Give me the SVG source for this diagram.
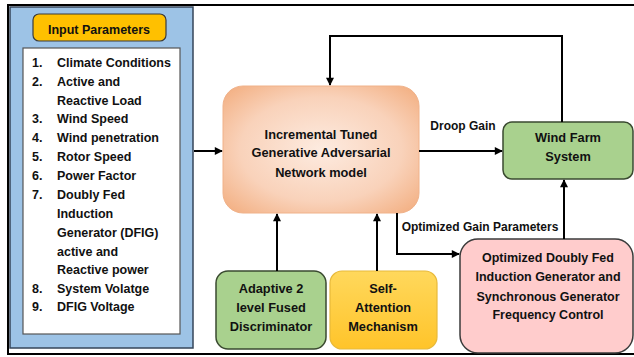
<svg xmlns="http://www.w3.org/2000/svg" width="634" height="357" viewBox="0 0 634 357">
<defs>
<radialGradient id="gOrange" cx="0.5" cy="0.5" r="0.75">
<stop offset="0" stop-color="#FDEBE0"/>
<stop offset="0.55" stop-color="#F9D2BA"/>
<stop offset="1" stop-color="#F1A673"/>
</radialGradient>
<linearGradient id="gYellow" x1="0" y1="0" x2="0" y2="1">
<stop offset="0" stop-color="#FFD85C"/>
<stop offset="1" stop-color="#FFC42A"/>
</linearGradient>
<marker id="arr" viewBox="0 0 10 10" refX="9" refY="5" markerWidth="9" markerHeight="8" markerUnits="userSpaceOnUse" orient="auto">
<path d="M0,0 L10,5 L0,10 z" fill="#000"/>
</marker>
</defs>
<style>
text{font-family:"Liberation Sans",Arial,sans-serif;font-weight:bold;fill:#111}
.l{font-size:12.5px}
.n{font-size:12px;text-anchor:middle}
.big{font-size:12.8px}
.pk{font-size:12.5px}
.c{fill:none;stroke:#000;stroke-width:2}
</style>
<rect x="0" y="0" width="634" height="357" fill="#fff"/>
<rect x="8" y="5" width="640" height="349" fill="none" stroke="#000" stroke-width="2"/>

<g id="input-panel">
<rect x="10" y="7" width="183" height="341" fill="#9DC3E6" stroke="#36465a" stroke-width="1.5"/>
<rect x="33" y="14" width="133" height="27" rx="6" fill="#FFC000" stroke="#3b3b3b" stroke-width="1.2"/>
<text class="n" x="99" y="34" style="font-size:12.5px">Input Parameters</text>
<rect x="23" y="48" width="157" height="286" fill="#fff" stroke="#555" stroke-width="1.2"/>
<text class="l" x="32" y="67">1.</text><text class="l" x="57" y="67">Climate Conditions</text>
<text class="l" x="32" y="86">2.</text><text class="l" x="57" y="86">Active and</text>
<text class="l" x="57" y="105">Reactive Load</text>
<text class="l" x="32" y="123">3.</text><text class="l" x="57" y="123">Wind Speed</text>
<text class="l" x="32" y="142">4.</text><text class="l" x="57" y="142">Wind penetration</text>
<text class="l" x="32" y="161">5.</text><text class="l" x="57" y="161">Rotor Speed</text>
<text class="l" x="32" y="180">6.</text><text class="l" x="57" y="180">Power Factor</text>
<text class="l" x="32" y="199">7.</text><text class="l" x="57" y="199">Doubly Fed</text>
<text class="l" x="57" y="218">Induction</text>
<text class="l" x="57" y="237">Generator (DFIG)</text>
<text class="l" x="57" y="256">active and</text>
<text class="l" x="57" y="274">Reactive power</text>
<text class="l" x="32" y="293">8.</text><text class="l" x="57" y="293">System Volatge</text>
<text class="l" x="32" y="311">9.</text><text class="l" x="57" y="311">DFIG Voltage</text>
</g>

<g id="gan">
<rect x="223" y="86" width="196" height="127" rx="20" fill="url(#gOrange)" stroke="#F0B28A" stroke-width="1"/>
<text class="n big" x="321" y="139">Incremental Tuned</text>
<text class="n big" x="321" y="157">Generative Adversarial</text>
<text class="n big" x="321" y="177">Network model</text>
</g>

<g id="wind-farm">
<rect x="503" y="122" width="130" height="57" rx="9" fill="#A9D18E" stroke="#3a4a30" stroke-width="1.5"/>
<text class="n big" x="568" y="142">Wind Farm</text>
<text class="n big" x="568" y="161">System</text>
</g>

<g id="discriminator">
<rect x="216" y="271" width="110" height="78" rx="12" fill="#A9D18E" stroke="#3a4a30" stroke-width="1.5"/>
<text class="n big" x="271" y="293">Adaptive 2</text>
<text class="n big" x="271" y="312">level Fused</text>
<text class="n big" x="271" y="331">Discriminator</text>
</g>

<g id="self-attention">
<rect x="330" y="271" width="107" height="78" rx="12" fill="url(#gYellow)" stroke="#E8B93A" stroke-width="1.2"/>
<text class="n big" x="383" y="293">Self-</text>
<text class="n big" x="383" y="312">Attention</text>
<text class="n big" x="383" y="331">Mechanism</text>
</g>

<g id="frequency-control">
<rect x="460" y="239" width="173" height="114" rx="18" fill="#FFCCCC" stroke="#3b3b3b" stroke-width="1.5"/>
<text class="n pk" x="548" y="262">Optimized Doubly Fed</text>
<text class="n pk" x="548" y="281">Induction Generator and</text>
<text class="n pk" x="548" y="301">Synchronous Generator</text>
<text class="n pk" x="548" y="319">Frequency Control</text>
</g>

<g id="connectors">
<line class="c" x1="194" y1="151" x2="222" y2="151" marker-end="url(#arr)"/>
<line class="c" x1="419" y1="151" x2="502" y2="151" marker-end="url(#arr)"/>
<polyline class="c" points="562,122 562,36 330,36 330,85" marker-end="url(#arr)"/>
<line class="c" x1="277" y1="271" x2="277" y2="214" marker-end="url(#arr)"/>
<line class="c" x1="377" y1="271" x2="377" y2="214" marker-end="url(#arr)"/>
<polyline class="c" points="397,213 397,254 459,254" marker-end="url(#arr)"/>
<line class="c" x1="564" y1="239" x2="564" y2="180" marker-end="url(#arr)"/>
<text class="n" x="463" y="130">Droop Gain</text>
<text class="n" x="480" y="231">Optimized Gain Parameters</text>
</g>
</svg>
